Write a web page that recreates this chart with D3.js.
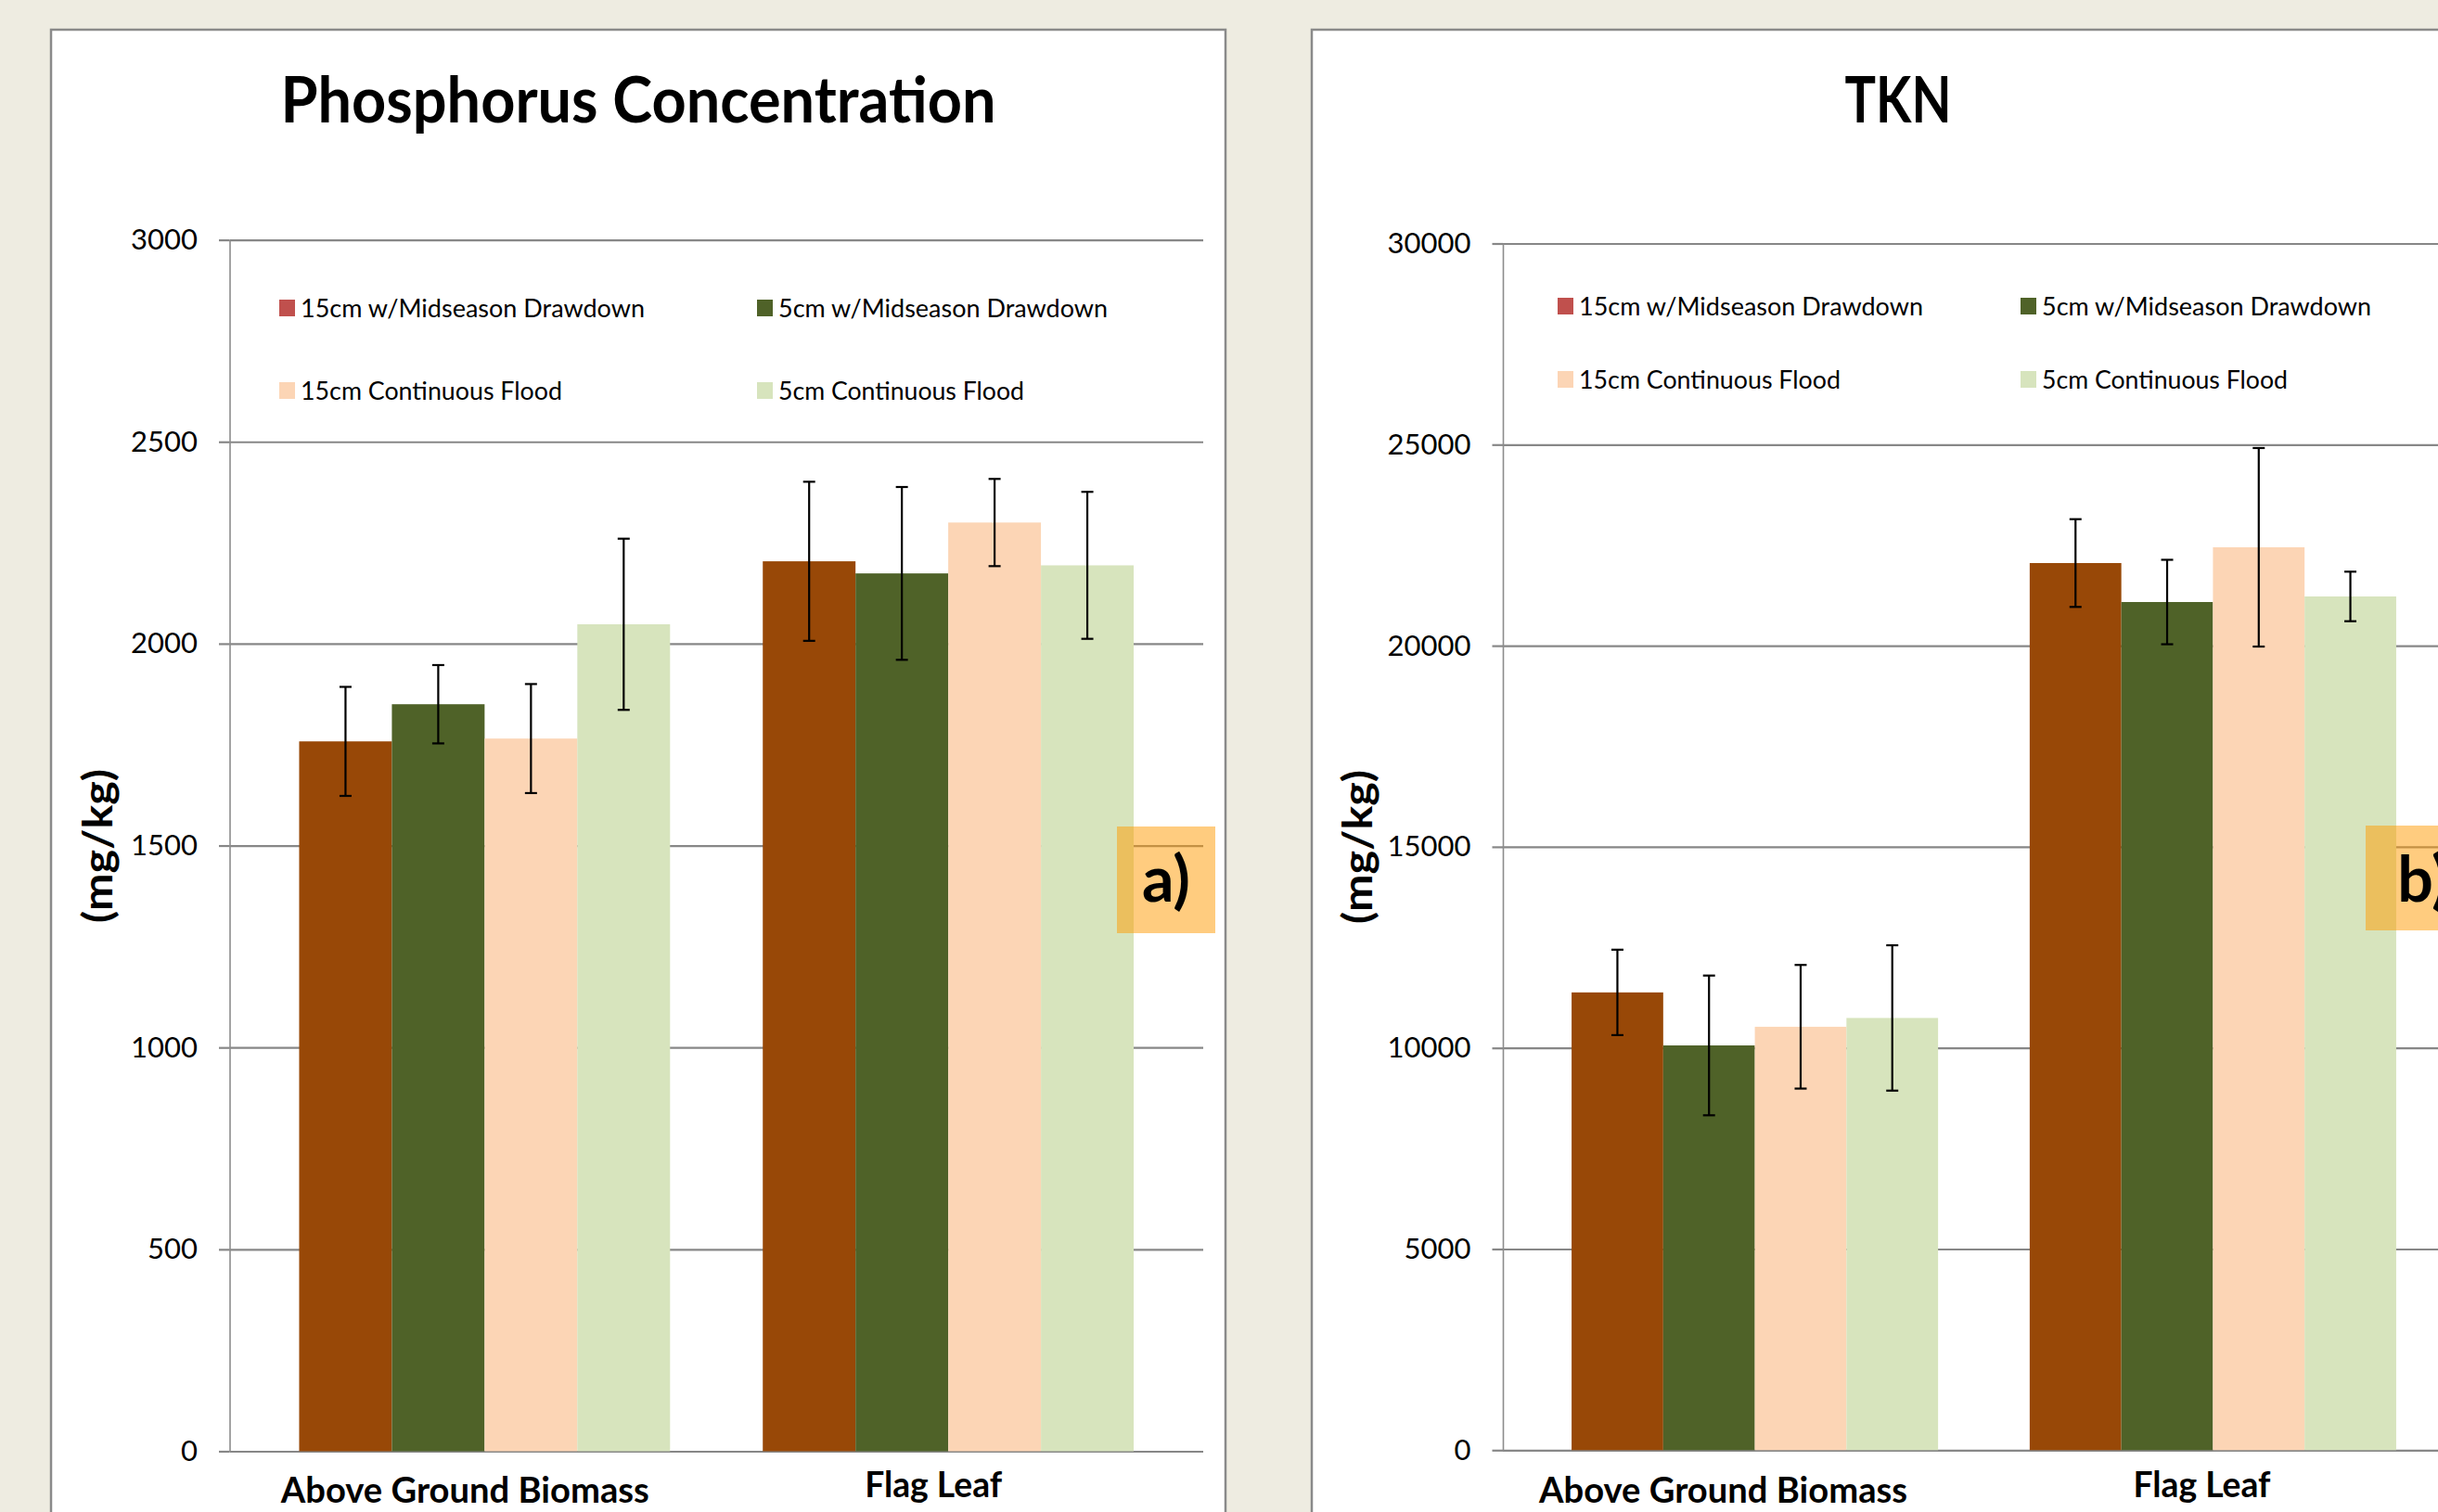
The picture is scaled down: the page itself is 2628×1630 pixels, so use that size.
<!DOCTYPE html>
<html lang="en">
<head>
<meta charset="UTF-8">
<title>Phosphorus and TKN</title>
<script src="https://d3js.org/d3.v7.min.js"></script>
<style>
  body { margin: 0; background: #EEECE1; }
  text { font-family: Lato, "Open Sans", sans-serif; fill: #000; }
</style>
</head>
<body>
<svg width="2628" height="1630"></svg>
<script>
// categories and series
const categories = ["Above Ground Biomass", "Flag Leaf"];
const seriesNames = ["15cm w/Midseason Drawdown", "5cm w/Midseason Drawdown",
                     "15cm Continuous Flood", "5cm Continuous Flood"];

// values per series: [above ground biomass, flag leaf]
const phosValues = [[1758, 2204], [1850, 2174], [1765, 2300], [2048, 2194]];
const phosErrors = [[135, 197], [97, 214], [135, 108], [212, 182]];
const tknValues = [[11380, 22055], [10062, 21086], [10526, 22447], [10745, 21225]];
const tknErrors = [[1062, 1091], [1737, 1050], [1537, 2468], [1807, 616]];

const phosTicks = [0, 500, 1000, 1500, 2000, 2500, 3000];
const tknTicks = [0, 5000, 10000, 15000, 20000, 25000, 30000];

const barColors = ["#984807", "#4F6228", "#FCD5B5", "#D7E4BD"];
const legendColors = ["#C0504D", "#4F6228", "#FCD5B5", "#D7E4BD"];

// layout of the two panels
const panels = [
  { title: "Phosphorus Concentration", tag: "a)", values: phosValues, errors: phosErrors, ticks: phosTicks,
    frame: { x: 55, y: 32, w: 1266 }, titleW: 771,
    plot: { x0: 247.5, x1: 1297, y0: 1564.5, y1: 258.6 },
    legend: { x: [301, 816], y: [332, 421] },
    tagBox: { x: 1204, y: 891, w: 106, h: 115 },
    catDx: [-21, -16],
    yTitleX: 121, yTitleY: 912 },
  { title: "TKN", tag: "b)", values: tknValues, errors: tknErrors, ticks: tknTicks,
    frame: { x: 1414, y: 32, w: 1264 }, titleW: 115,
    plot: { x0: 1620, x1: 2657, y0: 1563.3, y1: 262.5 },
    legend: { x: [1679, 2178], y: [330, 409] },
    tagBox: { x: 2550, y: 890, w: 124, h: 113 },
    catDx: [-34, -12],
    yTitleX: 1479, yTitleY: 913 }
];
const legendTextW = [371, 355, 282, 265];
const catLabelW = [397, 148];

const svg = d3.select("svg");

function fit(sel, w) {
  sel.attr("textLength", w).attr("lengthAdjust", "spacingAndGlyphs");
}

panels.forEach(p => {
  const g = svg.append("g");

  // panel frame
  g.append("rect")
    .attr("x", p.frame.x).attr("y", p.frame.y)
    .attr("width", p.frame.w).attr("height", 1700)
    .attr("fill", "#fff").attr("stroke", "#8a8a8a").attr("stroke-width", 2.5);

  // title
  g.append("text")
    .attr("x", p.frame.x + p.frame.w / 2).attr("y", 132)
    .attr("text-anchor", "middle")
    .style("font-size", "69px").style("font-weight", "bold")
    .text(p.title)
    .call(fit, p.titleW);

  const x0 = d3.scaleBand().domain(categories)
    .range([p.plot.x0, p.plot.x1]).paddingInner(0.2).paddingOuter(0.15);
  const x1 = d3.scaleBand().domain(d3.range(seriesNames.length))
    .range([0, x0.bandwidth()]);
  const y = d3.scaleLinear().domain([0, d3.max(p.ticks)])
    .range([p.plot.y0, p.plot.y1]);

  // gridlines
  g.append("g")
    .attr("transform", `translate(${p.plot.x0},0)`)
    .call(d3.axisLeft(y).tickValues(p.ticks).tickSize(-(p.plot.x1 - p.plot.x0)).tickFormat(""))
    .call(a => a.select(".domain").remove())
    .call(a => a.selectAll("line").attr("stroke", "#878787").attr("stroke-width", 2.2));

  // y axis with ticks and labels
  g.append("g")
    .attr("transform", `translate(${p.plot.x0},0)`)
    .call(d3.axisLeft(y).tickValues(p.ticks).tickFormat(d3.format("d"))
      .tickSize(11.5).tickSizeOuter(0).tickPadding(23))
    .call(a => a.select(".domain").attr("stroke", "#8c8c8c").attr("stroke-width", 1.6))
    .call(a => a.selectAll("line").attr("stroke", "#878787").attr("stroke-width", 2.2))
    .call(a => a.selectAll("text").style("font-size", "31px").style("font-family", "Lato, sans-serif").attr("fill", "#000"));

  // bars
  const bars = [];
  seriesNames.forEach((s, si) => {
    categories.forEach((c, ci) => {
      bars.push({ s: si, c: c, v: p.values[si][ci], e: p.errors[si][ci] });
    });
  });

  g.selectAll("rect.bar").data(bars).enter().append("rect")
    .attr("class", "bar")
    .attr("x", d => x0(d.c) + x1(d.s))
    .attr("width", x1.bandwidth())
    .attr("y", d => y(d.v))
    .attr("height", d => y(0) - y(d.v))
    .attr("fill", d => barColors[d.s]);

  // error bars
  const eb = g.selectAll("g.err").data(bars).enter().append("g")
    .attr("class", "err")
    .attr("transform", d => `translate(${x0(d.c) + x1(d.s) + x1.bandwidth() / 2},0)`)
    .attr("stroke", "#000").attr("stroke-width", 2.2);
  eb.append("line").attr("y1", d => y(d.v + d.e)).attr("y2", d => y(d.v - d.e));
  eb.append("line").attr("x1", -6.5).attr("x2", 6.5).attr("y1", d => y(d.v + d.e)).attr("y2", d => y(d.v + d.e));
  eb.append("line").attr("x1", -6.5).attr("x2", 6.5).attr("y1", d => y(d.v - d.e)).attr("y2", d => y(d.v - d.e));

  // category labels
  g.selectAll("text.cat").data(categories).enter().append("text")
    .attr("class", "cat")
    .attr("x", (d, i) => x0(d) + x0.bandwidth() / 2 + p.catDx[i])
    .attr("y", (d, i) => i === 0 ? 1620 : 1614)
    .attr("text-anchor", "middle")
    .style("font-size", "39px").style("font-weight", "bold")
    .text(d => d)
    .each(function(d, i) { d3.select(this).call(fit, catLabelW[i]); });

  // legend (two columns, two rows)
  seriesNames.forEach((s, i) => {
    const lx = p.legend.x[i % 2], ly = p.legend.y[Math.floor(i / 2)];
    g.append("rect").attr("x", lx).attr("y", ly - 9).attr("width", 17).attr("height", 18)
      .attr("fill", legendColors[i]);
    g.append("text").attr("x", lx + 23).attr("y", ly + 10)
      .style("font-size", "27px")
      .text(s)
      .call(fit, legendTextW[i]);
  });

  // y axis title
  g.append("text")
    .attr("transform", `translate(${p.yTitleX},${p.yTitleY}) rotate(-90)`)
    .attr("text-anchor", "middle")
    .style("font-size", "44px").style("font-weight", "bold")
    .text("(mg/kg)")
    .call(fit, 166);

  // panel tag
  g.append("rect")
    .attr("x", p.tagBox.x).attr("y", p.tagBox.y)
    .attr("width", p.tagBox.w).attr("height", p.tagBox.h)
    .attr("fill", "#FF9900").attr("fill-opacity", 0.5);
  g.append("text")
    .attr("x", p.tagBox.x + p.tagBox.w / 2).attr("y", 972)
    .attr("text-anchor", "middle")
    .style("font-size", "68px").style("font-weight", "bold")
    .text(p.tag);
});
</script>
</body>
</html>
